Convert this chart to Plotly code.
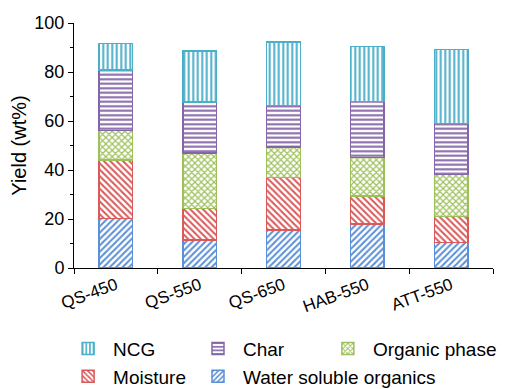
import plotly.graph_objects as go

categories = ["QS-450", "QS-550", "QS-650", "HAB-550", "ATT-550"]
wso = [20.2, 11.5, 15.6, 17.9, 10.4]
moisture = [23.8, 12.7, 21.3, 11.5, 10.6]
organic = [12.2, 22.7, 12.4, 15.8, 17.1]
char = [24.7, 20.8, 17.1, 22.8, 20.9]
ncg = [10.7, 20.9, 25.9, 22.5, 30.1]
y_ticks = [0, 20, 40, 60, 80, 100]

# (name, values, colour, hatch, legend column)
series = [
    ("Water soluble organics", wso, "#5b8fd6", "/", "legend2"),
    ("Moisture", moisture, "#d95a5a", "\\", "legend"),
    ("Organic phase", organic, "#9dc05a", "x", "legend3"),
    ("Char", char, "#8466a8", "-", "legend2"),
    ("NCG", ncg, "#4bafc8", "|", "legend"),
]

fig = go.Figure()
for name, vals, col, shp, leg in series:
    fig.add_trace(go.Bar(
        name=name, x=categories, y=vals, width=0.4, legend=leg,
        marker=dict(color="white", line=dict(color=col, width=1.5),
                    pattern=dict(shape=shp, fgcolor=col, bgcolor="white",
                                 size=4.5, solidity=0.45, fillmode="replace")),
    ))

font = "Liberation Sans, Arial, sans-serif"
leg_common = dict(orientation="v", traceorder="reversed", xanchor="left",
                  y=-0.252, yanchor="top", font=dict(size=19), itemwidth=40,
                  tracegroupgap=0, bgcolor="rgba(0,0,0,0)")
fig.update_layout(
    barmode="stack",
    width=498, height=381,
    margin=dict(l=66, r=13, t=15, b=121, autoexpand=False),
    paper_bgcolor="white", plot_bgcolor="white",
    font=dict(family=font, size=17, color="black"),
    showlegend=True,
    legend=dict(x=-0.026, **leg_common),
    legend2=dict(x=0.284, **leg_common),
    legend3=dict(x=0.594, **leg_common),
    xaxis=dict(showline=True, linecolor="black", linewidth=1, ticks="outside",
               tickson="boundaries", ticklen=5, tickcolor="black", tickangle=-20,
               showgrid=False, zeroline=False, tickfont=dict(size=17)),
    yaxis=dict(range=[0, 100], showline=True, linecolor="black", linewidth=1,
               ticks="outside", ticklen=5, tickcolor="black", tickvals=y_ticks,
               minor=dict(ticks="outside", ticklen=3, dtick=10, tickcolor="black"),
               showgrid=False, zeroline=False, tickfont=dict(size=18),
               title=dict(text="Yield (wt%)", font=dict(size=20), standoff=6)),
)

fig.write_html("out.html")
